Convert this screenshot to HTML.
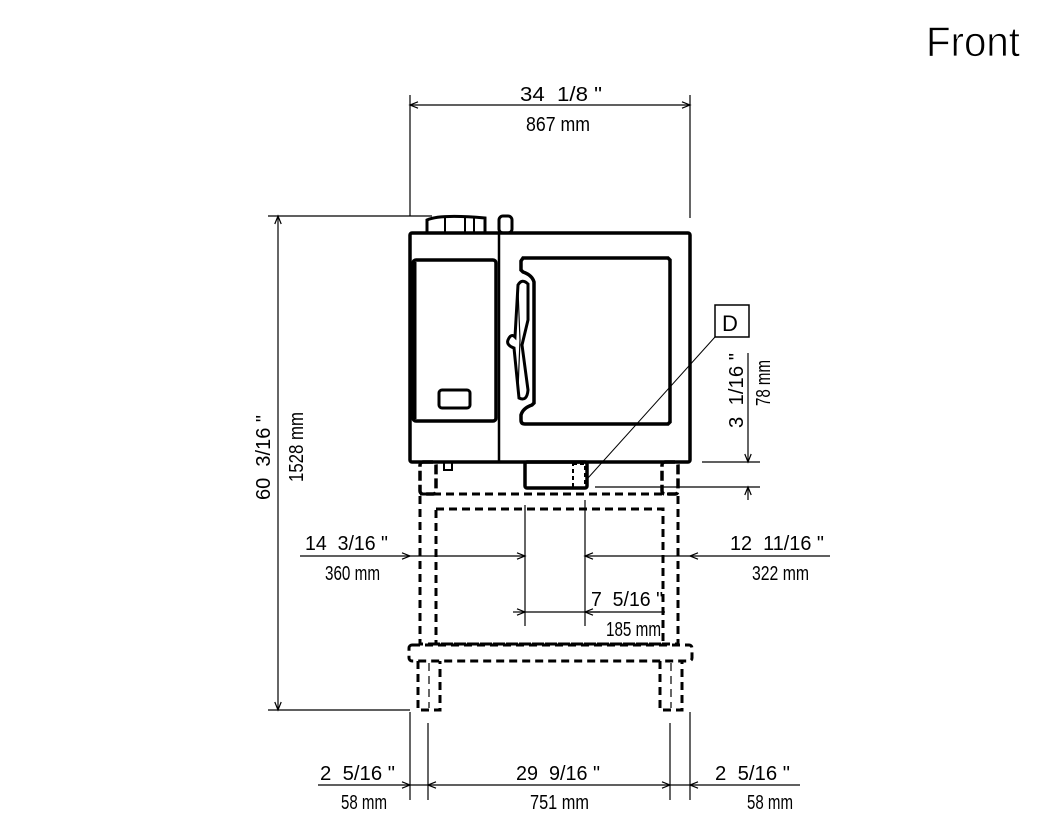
<!DOCTYPE html>
<html><head><meta charset="utf-8"><style>
html,body{margin:0;padding:0;background:#fff;}
svg{display:block;}
text{font-family:"Liberation Sans",sans-serif;fill:#000;white-space:pre;}
.t{font-size:20px;}
</style></head><body>
<svg width="1042" height="835" viewBox="0 0 1042 835" xmlns="http://www.w3.org/2000/svg">
<defs>
<marker id="a" viewBox="0 0 10 10" refX="10" refY="5" markerWidth="12" markerHeight="8" orient="auto-start-reverse" markerUnits="userSpaceOnUse"><path d="M0,1 L10,5 L0,9" fill="none" stroke="#000" stroke-width="1.5"/></marker>
</defs>
<text x="926" y="56" font-size="42" textLength="94" lengthAdjust="spacingAndGlyphs" fill="#111" stroke="#fff" stroke-width="0.8">Front</text>

<g stroke="#000" stroke-width="1.2" fill="none">
<line x1="410" y1="95" x2="410" y2="216"/>
<line x1="690" y1="95" x2="690" y2="218"/>
<line x1="410" y1="105" x2="690" y2="105" marker-start="url(#a)" marker-end="url(#a)"/>
<line x1="268" y1="216" x2="432" y2="216"/>
<line x1="268" y1="710" x2="410" y2="710"/>
<line x1="278" y1="216" x2="278" y2="710" marker-start="url(#a)" marker-end="url(#a)"/>
<line x1="300" y1="556" x2="410" y2="556" marker-end="url(#a)"/>
<line x1="410" y1="556" x2="525" y2="556" marker-end="url(#a)"/>
<line x1="585" y1="556" x2="690" y2="556" marker-start="url(#a)"/>
<line x1="690" y1="556" x2="830" y2="556" marker-start="url(#a)"/>
<line x1="525" y1="505" x2="525" y2="626"/>
<line x1="585" y1="500" x2="585" y2="626"/>
<line x1="513" y1="612" x2="525" y2="612" marker-end="url(#a)"/>
<line x1="525" y1="612" x2="665" y2="612"/>
<line x1="600" y1="612" x2="585" y2="612" marker-end="url(#a)"/>
<line x1="702" y1="462" x2="760" y2="462"/>
<line x1="595" y1="487" x2="760" y2="487"/>
<line x1="748" y1="353" x2="748" y2="462" marker-end="url(#a)"/>
<line x1="748" y1="500" x2="748" y2="487" marker-end="url(#a)"/>
<rect x="715" y="305" width="34" height="32" stroke-width="1.5"/>
<line x1="715" y1="337" x2="588" y2="478" stroke-width="1"/>
<line x1="410" y1="712" x2="410" y2="800"/>
<line x1="428" y1="723" x2="428" y2="800"/>
<line x1="670" y1="723" x2="670" y2="800"/>
<line x1="690" y1="712" x2="690" y2="800"/>
<line x1="318" y1="785" x2="410" y2="785" marker-end="url(#a)"/>
<line x1="428" y1="785" x2="670" y2="785" marker-start="url(#a)" marker-end="url(#a)"/>
<line x1="690" y1="785" x2="800" y2="785" marker-start="url(#a)"/>
<line x1="410" y1="785" x2="428" y2="785"/>
<line x1="670" y1="785" x2="690" y2="785"/>
</g>

<g stroke="#000" stroke-width="3.5" fill="none">
<rect x="410" y="233" width="280" height="229" rx="2"/>
<line x1="499" y1="233" x2="499" y2="462" stroke-width="2.5"/>
<rect x="413" y="260" width="83" height="161" rx="3"/>
<line x1="414" y1="262" x2="414" y2="419" stroke-width="5"/>
<rect x="439" y="390" width="31" height="18" rx="3" stroke-width="3"/>
<path d="M523,258 L668,258 L670,260 L670,422 L668,424 L525,424 Q521,424 521,420 L521,415 Q523,408 532,405 L534,403 L534,282 Q532,275 523,272 L521,270 L521,261 Z"/>
<path d="M518,285 Q522,278 528,284 L528,320 L522,345 L528,390 Q527,402 519,398 L514,348 Q506,345 508,340 Q511,333 515,337 Z" stroke-width="3"/>
<path d="M518,290 L520,340 L518,390" stroke-width="1.2"/>
<path d="M427,233 L427,220 Q440,214 485,218 L485,233" stroke-width="3"/>
<line x1="445" y1="218" x2="445" y2="233" stroke-width="2"/>
<line x1="465" y1="218" x2="465" y2="233" stroke-width="2"/>
<line x1="474" y1="218" x2="474" y2="233" stroke-width="2"/>
<rect x="499" y="216" width="13" height="17" rx="4" stroke-width="3"/>
<rect x="525" y="462" width="62" height="26" rx="2"/>
<rect x="573" y="464" width="12" height="24" stroke-width="2" stroke-dasharray="4,3"/>
<rect x="444" y="462" width="8" height="8" stroke-width="2"/>
<rect x="420" y="462" width="16" height="32" rx="3" stroke-dasharray="10,4"/>
<rect x="662" y="462" width="16" height="32" rx="3" stroke-dasharray="10,4"/>
</g>
<g stroke="#000" stroke-width="3" fill="none" stroke-dasharray="8,5">
<rect x="420" y="494" width="258" height="150"/>
<rect x="436" y="509" width="227" height="135"/>
<rect x="409" y="645" width="283" height="16" rx="3"/>
<path d="M418,661 L418,710 L440,710 L440,661"/>
<path d="M660,661 L660,710 L682,710 L682,661"/>
</g>
<g stroke="#000" stroke-width="1.2" stroke-dasharray="8,5">
<line x1="429" y1="663" x2="429" y2="708"/>
<line x1="671" y1="663" x2="671" y2="708"/>
</g>

<g class="t">
<text x="520" y="101" textLength="82" lengthAdjust="spacingAndGlyphs">34  1/8 "</text>
<text x="526" y="131" textLength="64" lengthAdjust="spacingAndGlyphs">867 mm</text>
<text transform="translate(270,500) rotate(-90)" textLength="85" lengthAdjust="spacingAndGlyphs">60  3/16 "</text>
<text transform="translate(303,482) rotate(-90)" textLength="70" lengthAdjust="spacingAndGlyphs">1528 mm</text>
<text x="305" y="550" textLength="83" lengthAdjust="spacingAndGlyphs">14  3/16 "</text>
<text x="325" y="580" textLength="55" lengthAdjust="spacingAndGlyphs">360 mm</text>
<text x="730" y="550" textLength="94" lengthAdjust="spacingAndGlyphs">12  11/16 "</text>
<text x="752" y="580" textLength="57" lengthAdjust="spacingAndGlyphs">322 mm</text>
<text x="591" y="606" textLength="72" lengthAdjust="spacingAndGlyphs">7  5/16 "</text>
<text x="606" y="636" textLength="55" lengthAdjust="spacingAndGlyphs">185 mm</text>
<text transform="translate(743,428) rotate(-90)" textLength="75" lengthAdjust="spacingAndGlyphs">3  1/16 "</text>
<text transform="translate(770,406) rotate(-90)" textLength="46" lengthAdjust="spacingAndGlyphs">78 mm</text>
<text x="722" y="331" font-size="22">D</text>
<text x="320" y="780" textLength="75" lengthAdjust="spacingAndGlyphs">2  5/16 "</text>
<text x="341" y="809" textLength="46" lengthAdjust="spacingAndGlyphs">58 mm</text>
<text x="516" y="780" textLength="84" lengthAdjust="spacingAndGlyphs">29  9/16 "</text>
<text x="530" y="809" textLength="59" lengthAdjust="spacingAndGlyphs">751 mm</text>
<text x="715" y="780" textLength="75" lengthAdjust="spacingAndGlyphs">2  5/16 "</text>
<text x="747" y="809" textLength="46" lengthAdjust="spacingAndGlyphs">58 mm</text>
</g>
</svg>
</body></html>
